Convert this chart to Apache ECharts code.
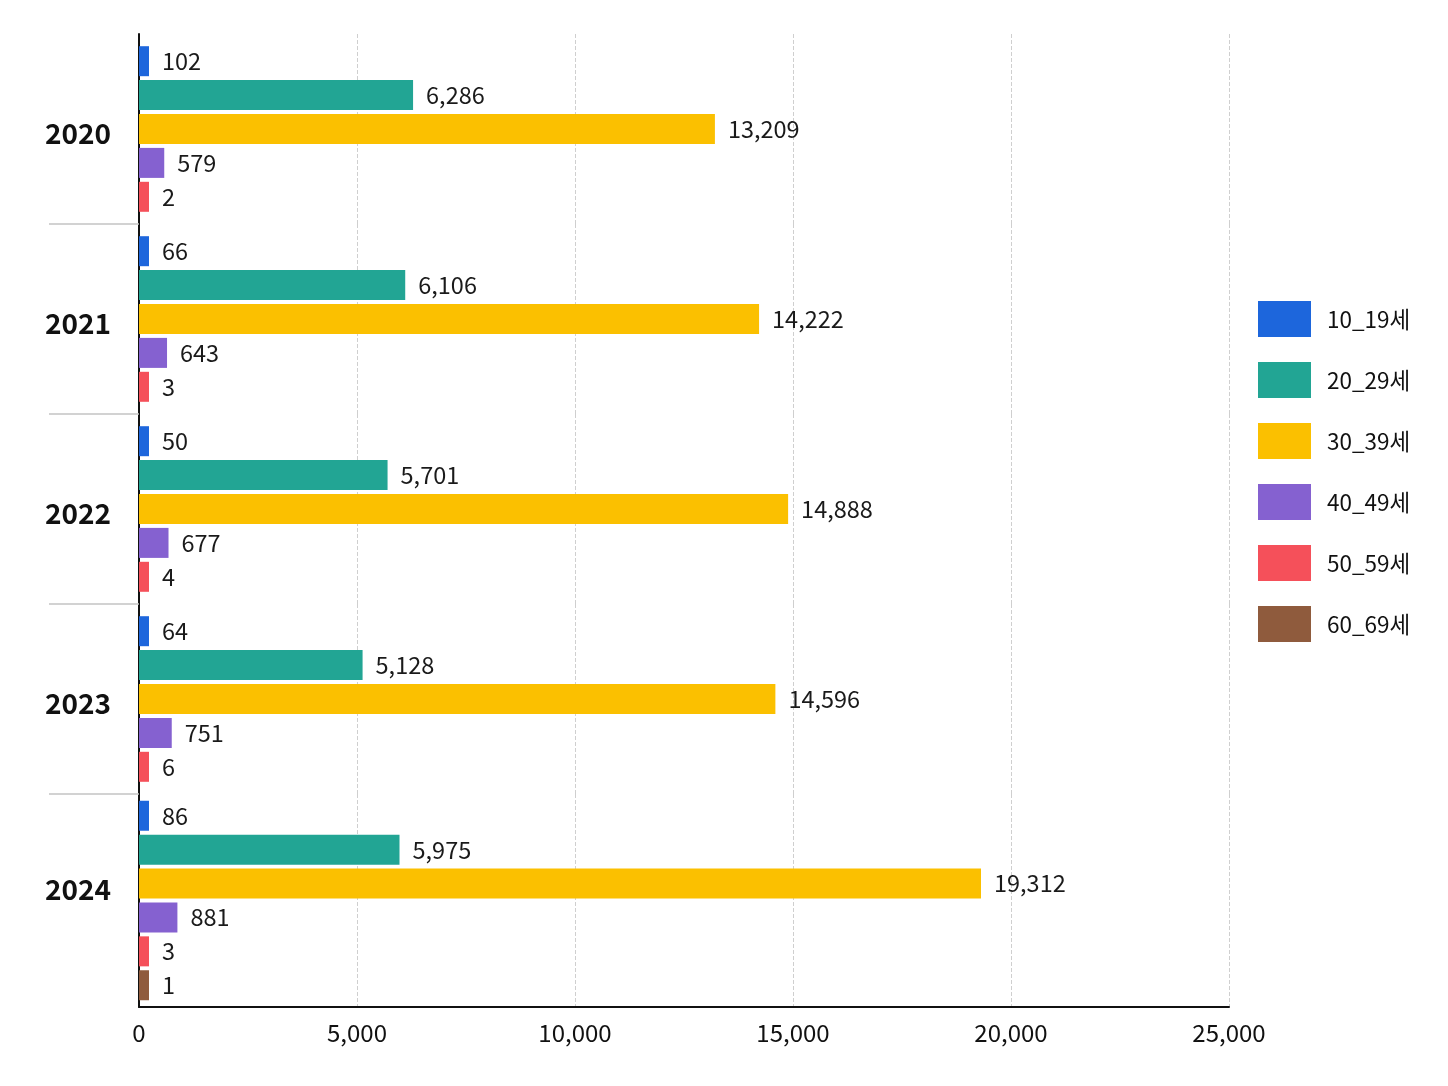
<!DOCTYPE html>
<html>
<head>
<meta charset="utf-8">
<script src="https://cdn.jsdelivr.net/npm/echarts@6/dist/echarts.min.js"></script>
<style>
html, body { margin: 0; padding: 0; background: #fff; }
#chart { width: 1448px; height: 1086px; }
</style>
</head>
<body>
<div id="chart"></div>
<script>
// 연도 / 연령대
var years = ['2020', '2021', '2022', '2023', '2024'];
var ages = ['10_19세', '20_29세', '30_39세', '40_49세', '50_59세', '60_69세'];

// 연령대별 값 (연도 순서)
var age10 = [102, 66, 50, 64, 86];
var age20 = [6286, 6106, 5701, 5128, 5975];
var age30 = [13209, 14222, 14888, 14596, 19312];
var age40 = [579, 643, 677, 751, 881];
var age50 = [2, 3, 4, 6, 3];
var age60 = [null, null, null, null, 1];

var xTicks = [0, 5000, 10000, 15000, 20000, 25000];

var values = [age10, age20, age30, age40, age50, age60];
var colors = ['#1d66dc', '#22a594', '#fbc000', '#8561d0', '#f5505a', '#8f5b3d'];
var font = '"Noto Sans CJK KR", "Noto Sans", sans-serif';

// 그리드 위치 (연도별 띠)
var gridTop = [34, 224, 414, 604, 794];
var gridH = [190, 190, 190, 190, 213];

var chart = echarts.init(document.getElementById('chart'));

var grids = [], xAxes = [], yAxes = [], series = [];
for (var g = 0; g < years.length; g++) {
	var last = g == years.length - 1;
	grids.push({ left: 139, right: 219, top: gridTop[g], height: gridH[g] });
	xAxes.push({
		type: 'value',
		gridIndex: g,
		min: xTicks[0],
		max: xTicks[xTicks.length - 1],
		interval: xTicks[1] - xTicks[0],
		axisLine: { show: last, lineStyle: { color: '#111', width: 2 } },
		axisTick: { show: false },
		axisLabel: {
			show: last,
			margin: 14,
			color: '#111',
			fontSize: 24,
			fontFamily: font,
			formatter: function (v) { return v.toLocaleString('en-US'); }
		},
		splitLine: { show: true, lineStyle: { color: '#cfcfcf', type: 'dashed', width: 1 } }
	});
	yAxes.push({
		type: 'category',
		gridIndex: g,
		inverse: true,
		data: [years[g]],
		axisLine: { show: true, lineStyle: { color: '#111', width: 2 } },
		// 구분선: 가운데 연도들의 위/아래 경계에만
		axisTick: { show: g >= 1 && g <= 3, length: 90, lineStyle: { color: '#c4c4c4', width: 1.5 } },
		axisLabel: {
			margin: 28,
			formatter: last ? '{b|{value}}' : '{a|{value}}',
			rich: {
				a: { color: '#111', fontSize: 28, fontWeight: 'bold', fontFamily: font, padding: [8, 0, 0, 0] },
				b: { color: '#111', fontSize: 28, fontWeight: 'bold', fontFamily: font, padding: [0, 0, 22, 0] }
			}
		}
	});
	for (var s = 0; s < ages.length; s++) {
		var v = values[s][g];
		if (v == null) continue;
		series.push({
			name: ages[s],
			type: 'bar',
			xAxisIndex: g,
			yAxisIndex: g,
			data: [v],
			barWidth: 30,
			barGap: '13%',
			barMinHeight: 10,
			itemStyle: { color: colors[s] },
			label: {
				show: true,
				position: 'right',
				distance: 13,
				color: '#1a1a1a',
				fontSize: 23.5,
				fontFamily: font,
				formatter: function (p) { return p.value.toLocaleString('en-US'); }
			}
		});
	}
}

chart.setOption({
	animation: false,
	textStyle: { fontFamily: font },
	legend: {
		data: ages,
		orient: 'vertical',
		left: 1258,
		top: 301,
		padding: 0,
		itemWidth: 53,
		itemHeight: 36,
		itemGap: 25,
		icon: 'rect',
		selectedMode: false,
		formatter: '{t|{name}}',
		textStyle: {
			rich: { t: { fontSize: 22.5, color: '#111', fontFamily: font, padding: [0, 0, 0, 11] } }
		}
	},
	grid: grids,
	xAxis: xAxes,
	yAxis: yAxes,
	series: series
});
</script>
</body>
</html>
